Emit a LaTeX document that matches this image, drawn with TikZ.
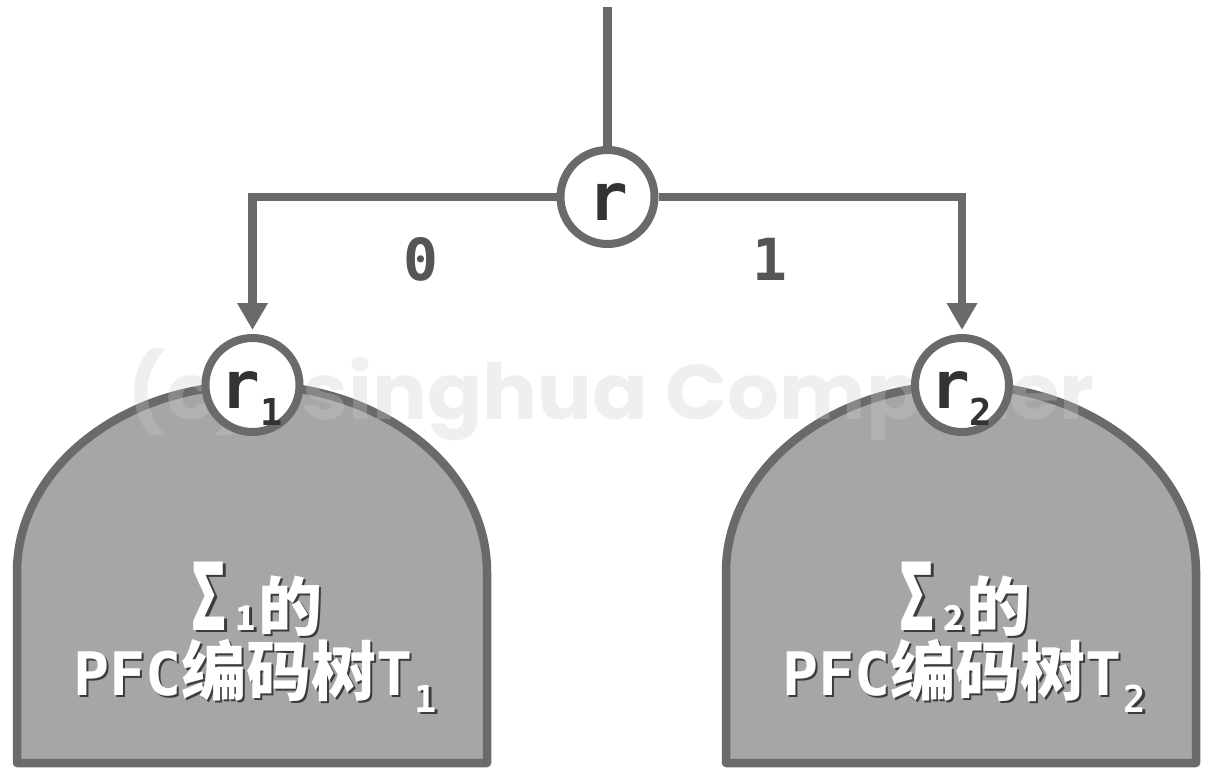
\documentclass[tikz,border=0pt]{standalone}
\usepackage{fontspec}
\usepackage{graphicx}
\usetikzlibrary{arrows.meta}
\newfontfamily\cjk{Noto Sans CJK SC}
\newfontfamily\mono{DejaVu Sans Mono}
\newfontfamily\wmf{Poppins}
\definecolor{linegray}{HTML}{6A6A6A}
\definecolor{domefill}{HTML}{A6A6A6}
\definecolor{txtdark}{HTML}{333333}
\definecolor{lblgray}{HTML}{555555}
\definecolor{shadowc}{HTML}{3C3C3C}
\tikzset{
  conn/.style={draw=linegray,line width=8.5pt},
  arr/.style={conn,-{Triangle[width=29pt,length=27pt]},shorten >=4pt},
  dome/.style={draw=linegray,fill=domefill,line width=8.5pt,line join=round},
  nd/.style={circle,draw=linegray,line width=8pt,fill=white,minimum size=94pt,inner sep=0pt},
  rlab/.style={inner sep=0pt,anchor=base,text=txtdark,font=\mono\bfseries\fontsize{66}{66}\selectfont},
  bitlab/.style={inner sep=0pt,anchor=base,text=lblgray,font=\mono\bfseries\fontsize{58}{58}\selectfont},
  dtxt/.style={inner sep=0pt,anchor=base,text=white},
  wmark/.style={inner sep=0pt,text=black!20,text opacity=0.3}
}
\newcommand\shtxt[4]{%
  \node[dtxt,text=shadowc] (#1s) at (#2+2.5,#3+2.5) {#4};
  \node[dtxt] (#1) at (#2,#3) {#4};}
\newcommand\lineone[1]{{\cjk\bfseries\fontsize{64}{64}\selectfont \scalebox{0.8}[1.45]{∑}\kern1pt{\fontsize{34}{34}\selectfont #1}\kern2pt 的}}
\newcommand\linetwo[1]{{\mono\bfseries\fontsize{60}{60}\selectfont PFC}{\cjk\bfseries\fontsize{65}{65}\selectfont 编码树}{\mono\bfseries\fontsize{60}{60}\selectfont T\kern2pt\raisebox{-17pt}{\fontsize{37}{37}\selectfont #1}}}
\begin{document}
\begin{tikzpicture}[x=1pt,y=-1pt]
\useasboundingbox (0,0) rectangle (1215,776);
\fill[white] (0,0) rectangle (1215,776);
% domes
\draw[dome] (17,763) -- (17,572) arc[start angle=180,end angle=360,x radius=235,y radius=187] -- (487,763) -- cycle;
\draw[dome] (726,763) -- (726,572) arc[start angle=180,end angle=360,x radius=235,y radius=187] -- (1196,763) -- cycle;
% watermark
\node[wmark] (wm) at (611,395) {\resizebox*{967pt}{92pt}{\wmf\bfseries (c)Tsinghua Computer}};
% circles
\node[nd] (r) at (607.5,197) {};
\node[nd] (r1) at (252.5,385) {};
\node[nd] (r2) at (962,385) {};
% connectors
\coordinate (top) at (607.5,7);
\draw[conn] (top) -- (r.north);
\draw[arr] (r.west) -| (r1.north);
\draw[arr] (r.east) -| (r2.north);
% circle labels
\node[rlab] (rt) at (608,220) {r};
\node[rlab] (r1t) at (252,408) {r\raisebox{-17pt}{\fontsize{37}{37}\selectfont 1}};
\node[rlab] (r2t) at (961,408) {r\raisebox{-17pt}{\fontsize{37}{37}\selectfont 2}};
% bit labels
\node[bitlab] (b0) at (421,280) {0};
\node[bitlab] (b1) at (770,280) {1};
% dome texts
\shtxt{la}{253}{630}{\lineone{1}}
\shtxt{lb}{255}{695}{\linetwo{1}}
\shtxt{ra}{961}{630}{\lineone{2}}
\shtxt{rb}{964}{695}{\linetwo{2}}
\end{tikzpicture}
\end{document}
